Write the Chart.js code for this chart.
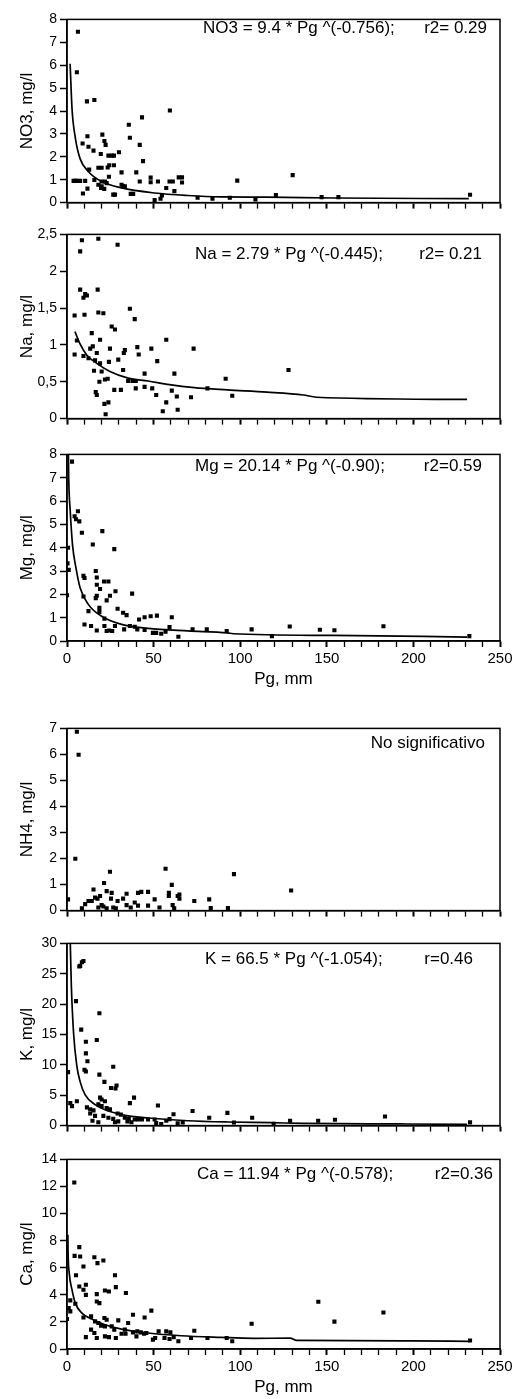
<!DOCTYPE html>
<html>
<head>
<meta charset="utf-8">
<script src="https://cdn.jsdelivr.net/npm/chart.js@4.4.1/dist/chart.umd.min.js"></script>
<style>
  body { margin: 0; background: #fff; width: 523px; height: 1399px; position: relative; overflow: hidden; }
  .panel { position: absolute; left: 0; width: 523px; }
</style>
</head>
<body>
<div class="panel" style="top:8px"><canvas id="cNO3" width="523" height="206"></canvas></div>
<div class="panel" style="top:223px"><canvas id="cNa" width="523" height="207"></canvas></div>
<div class="panel" style="top:443px"><canvas id="cMg" width="523" height="247"></canvas></div>
<div class="panel" style="top:717px"><canvas id="cNH4" width="523" height="205"></canvas></div>
<div class="panel" style="top:932px"><canvas id="cK" width="523" height="205"></canvas></div>
<div class="panel" style="top:1148px"><canvas id="cCa" width="523" height="250"></canvas></div>
<script>
// eje X comun (Pg, mm)
const xTickLabels = [0, 50, 100, 150, 200, 250];

// NO3
const no3Pg   = [6.3, 5.7, 11.5, 15.8, 11.8, 9.0, 12.4, 15.3, 20.4, 21.6, 22.3, 19.5, 23.9, 25.8, 27.1, 30, 35.7, 36.3, 43.3, 42, 43.9, 59.4, 18.1, 20, 23.5, 24.4, 27.1, 31.5, 40, 12.8, 15.8, 3.8, 4.8, 5.7, 7.6, 10.5, 9.2, 11.8, 19.7, 20, 21.9, 22.9, 24.2, 26.7, 27.7, 32.4, 36.8, 38.2, 42, 48.3, 48.3, 52.5, 59.2, 61.1, 64.5, 66.4, 66.4, 50.6, 54, 54.8, 57.3, 62, 98.3, 75.4, 84, 94, 108.8, 120.6, 130.3, 147, 156.7, 232.7, 18.1, 20, 21.5, 31.5, 33.4];
const no3Conc = [7.46, 5.69, 4.42, 4.48, 2.9, 2.58, 2.44, 2.27, 2.97, 2.69, 2.52, 2.12, 2.05, 2.05, 2.05, 2.2, 3.4, 2.83, 3.72, 2.52, 1.81, 4.02, 1.52, 1.52, 1.53, 1.63, 1.63, 1.32, 1.32, 1.44, 0.99, 0.95, 0.95, 0.95, 0.95, 0.95, 0.4, 0.61, 0.64, 0.92, 0.92, 0.85, 1.13, 0.35, 0.35, 0.71, 0.38, 0.38, 0.92, 1.09, 0.89, 0.92, 0.92, 0.92, 1.1, 1.1, 0.88, 0.11, 0.17, 0.31, 0.64, 0.5, 0.96, 0.21, 0.17, 0.21, 0.14, 0.33, 1.2, 0.24, 0.24, 0.34, 0.78, 0.71, 0.6, 0.78, 0.71];
const no3FitPg   = [1.8, 2.9, 4.8, 7.6, 12.4, 20, 31.5, 50.6, 69.7, 88.7, 115, 154, 232];
const no3FitConc = [6.06, 4.1, 2.83, 1.91, 1.35, 0.92, 0.64, 0.42, 0.31, 0.25, 0.24, 0.2, 0.17];

// Na
const naPg   = [8.6, 18.1, 29.2, 7.6, 7.6, 9.5, 10.5, 11.5, 17.7, 4.4, 10.1, 18.1, 21, 36.3, 39.1, 25.8, 27.7, 14.3, 5.7, 19.1, 14.9, 13.4, 17.2, 24.8, 33.4, 32.8, 40.6, 41.4, 48.7, 57.3, 73.1, 4.4, 9.5, 12.4, 16.2, 19.1, 24.2, 29.6, 52.1, 15.6, 20, 32.4, 21.9, 23.5, 18.7, 35.3, 37.8, 39.7, 44.8, 62, 16.6, 17.2, 27.3, 31.1, 39.7, 44.8, 49.2, 60.5, 51.5, 63.4, 71.6, 81.1, 91.6, 95.4, 127.9, 21.6, 23.9, 57.3, 55.3, 63.9, 22.3];
const naConc = [2.42, 2.44, 2.36, 2.27, 1.75, 1.64, 1.69, 1.67, 1.75, 1.4, 1.41, 1.44, 1.43, 1.49, 1.35, 1.25, 1.21, 1.16, 1.06, 1.07, 0.98, 0.95, 0.89, 0.95, 0.93, 0.89, 0.97, 0.87, 0.95, 1.07, 0.95, 0.87, 0.85, 0.82, 0.79, 0.75, 0.77, 0.8, 0.78, 0.65, 0.64, 0.66, 0.53, 0.54, 0.5, 0.51, 0.51, 0.51, 0.61, 0.61, 0.36, 0.32, 0.39, 0.39, 0.41, 0.43, 0.41, 0.38, 0.32, 0.3, 0.29, 0.41, 0.54, 0.31, 0.66, 0.2, 0.22, 0.22, 0.1, 0.12, 0.06];
const naFitPg   = [4.6, 7.6, 11.5, 17.2, 24.8, 35.3, 46.8, 59.2, 73.5, 92.6, 115.5, 136.5, 144, 231];
const naFitConc = [1.18, 1.01, 0.86, 0.75, 0.64, 0.55, 0.51, 0.46, 0.42, 0.39, 0.36, 0.32, 0.29, 0.26];

// Mg
const mgPg   = [2.9, 4.4, 6.3, 5.2, 7.1, 8.6, 20.4, 14.9, 27.3, 0.6, 0.3, 1.0, 0, 9.5, 10.1, 16.6, 17.2, 17.2, 21.4, 23.9, 19.1, 17.2, 16.6, 9.5, 28, 24.8, 22.9, 37.6, 12.4, 18.7, 18.7, 29.2, 32.4, 34.4, 21.6, 41.6, 44.8, 48.3, 51.9, 60.5, 10.1, 13.9, 17.2, 21.6, 22.9, 24.4, 27.7, 26.1, 33, 36.3, 39.1, 40.6, 44.8, 49.6, 51.5, 54.4, 56.9, 59.2, 64.3, 72.5, 80.7, 92.2, 106.6, 118.3, 128.6, 146, 154.4, 182.7, 232.3];
const mgConc = [7.69, 5.35, 5.56, 5.22, 5.13, 4.64, 4.71, 4.14, 3.94, 4.0, 3.33, 3.05, 1.96, 2.79, 2.7, 3.0, 2.72, 2.41, 2.55, 2.55, 2.23, 1.94, 1.84, 1.91, 2.13, 1.94, 1.74, 2.03, 1.28, 1.42, 1.25, 1.38, 1.21, 1.11, 0.96, 0.92, 1.02, 1.06, 1.09, 1.02, 0.71, 0.64, 0.45, 0.64, 0.43, 0.45, 0.64, 0.43, 0.5, 0.64, 0.61, 0.5, 0.47, 0.35, 0.35, 0.31, 0.4, 0.6, 0.18, 0.5, 0.5, 0.43, 0.5, 0.21, 0.62, 0.48, 0.46, 0.63, 0.21];
const mgFitPg   = [0.8, 1, 1.9, 3.2, 5.2, 7.6, 12.4, 20, 31.5, 46.8, 69.7, 92.6, 96, 154, 231];
const mgFitConc = [8, 6.95, 5.53, 4.11, 3.12, 2.27, 1.56, 1.06, 0.71, 0.54, 0.43, 0.35, 0.31, 0.24, 0.17];

// NH4 (sin ajuste)
const nh4Pg   = [5.7, 6.7, 4.8, 0.6, 24.8, 56.9, 96.4, 129.4, 21.4, 60.5, 15.3, 22.9, 25.8, 34.4, 41, 42.9, 46.8, 58.8, 58.8, 64.9, 63.9, 64.9, 19.1, 16.2, 12.4, 14.3, 17.6, 25.4, 29.2, 32.4, 50.6, 39.1, 73.5, 82.1, 10.5, 8.6, 18.1, 20, 21, 22.9, 26.7, 28.2, 34.4, 36.8, 41, 46.8, 53.4, 61, 61.9, 83, 92.9];
const nh4Conc = [6.87, 5.99, 1.99, 0.43, 1.49, 1.61, 1.4, 0.77, 1.06, 0.99, 0.81, 0.75, 0.68, 0.65, 0.68, 0.72, 0.72, 0.68, 0.56, 0.62, 0.56, 0.46, 0.56, 0.5, 0.37, 0.37, 0.46, 0.46, 0.37, 0.46, 0.43, 0.31, 0.37, 0.43, 0.25, 0.09, 0.12, 0.21, 0.16, 0.09, 0.12, 0.09, 0.21, 0.12, 0.19, 0.19, 0.12, 0.21, 0.09, 0.1, 0.1];

// K
const kPg   = [9.5, 8.6, 7.6, 7.1, 5.2, 18.7, 8.2, 17.2, 10.9, 10.9, 11.8, 10.1, 10.9, 26.7, 0.6, 18.7, 21.6, 25.4, 28.6, 28, 38.7, 36.3, 1.9, 2.9, 5.7, 19.1, 20, 21.9, 18.1, 20, 11.5, 13.4, 15.3, 52.5, 22.9, 24.8, 13.4, 16.2, 21, 23.9, 26.7, 29.2, 31.1, 33.4, 35.7, 39.1, 41, 43.3, 46.8, 50.6, 14.7, 18.1, 27.7, 29.6, 34.9, 37.2, 51.5, 54.4, 57.3, 59.2, 61.5, 63.9, 66.8, 72.5, 82.1, 92.6, 96.4, 106.9, 119.3, 128.8, 145, 154.7, 183.6, 232.7];
const kConc = [27.1, 26.9, 26.3, 26.2, 20.5, 18.5, 15.8, 14.1, 13.8, 11.9, 10.6, 9.2, 8.9, 9.7, 8.8, 8.4, 7.2, 6.2, 6.6, 6.1, 4.6, 3.7, 3.7, 3.2, 4.0, 4.6, 4.3, 4.0, 3.5, 3.2, 3.0, 2.7, 2.5, 3.3, 2.9, 2.7, 2.0, 1.6, 1.6, 1.3, 1.1, 2.0, 1.8, 1.3, 1.1, 1.0, 1.0, 1.0, 1.0, 1.0, 0.8, 0.55, 0.55, 0.7, 0.7, 0.55, 0.4, 0.27, 0.8, 1.06, 1.86, 0.37, 0.53, 2.4, 1.3, 2.1, 0.5, 1.3, 0.3, 0.8, 0.8, 0.96, 1.5, 0.53];
const kFitPg   = [1.9, 2.5, 3.8, 5.7, 7.6, 10.5, 16.2, 23.9, 35.3, 50.6, 69.7, 92.6, 117.4, 136.5, 192, 231];
const kFitConc = [30, 23.1, 15.2, 9.8, 7.2, 5.05, 3.46, 2.4, 1.6, 1.17, 0.8, 0.59, 0.48, 0.37, 0.27, 0.2];

// Ca
const caPg   = [4.2, 7.1, 4.4, 7.6, 15.8, 21, 17.6, 9.5, 5.2, 27.7, 10.9, 7.1, 9.5, 10.9, 28.2, 21.9, 24.2, 34, 17.2, 17.2, 18.7, 1.9, 1, 1.9, 4.8, 48.7, 38.1, 44.8, 9.5, 13.9, 21.6, 22.9, 29.6, 35.3, 0, 16.2, 18.1, 19.7, 21.9, 25.8, 27.3, 33.4, 38.1, 40.6, 42.6, 45.8, 52.9, 57.3, 59.7, 73.5, 13.9, 15.8, 10.9, 17.2, 21.9, 24.2, 28.2, 31.5, 33.8, 40.1, 44.5, 49.6, 50.9, 56.3, 59.2, 61.6, 64.3, 71.6, 81.1, 92.2, 95.4, 106.6, 145.1, 154.4, 182.7, 232.7];
const caConc = [12.29, 7.52, 6.88, 6.83, 6.78, 6.54, 6.34, 6.09, 5.45, 5.45, 4.74, 4.62, 4.37, 4.0, 4.57, 4.32, 4.25, 4.13, 4.05, 3.51, 3.39, 3.59, 3.02, 2.78, 3.34, 2.83, 2.53, 2.33, 2.33, 2.41, 2.29, 2.16, 2.11, 1.92, 2.21, 2.04, 1.92, 1.72, 1.67, 1.67, 1.43, 1.43, 1.23, 1.3, 1.23, 1.18, 1.3, 1.3, 1.23, 1.35, 1.43, 1.18, 0.88, 0.81, 0.93, 0.88, 0.81, 1.13, 1.13, 0.93, 1.13, 0.69, 0.81, 0.81, 0.74, 0.88, 0.57, 0.81, 0.81, 0.81, 0.57, 1.86, 3.49, 2.02, 2.69, 0.63];
const caFitPg   = [0.5, 0.6, 1.3, 2.9, 4.8, 8.6, 14.3, 21.9, 31.5, 46.8, 65.8, 88.7, 107.8, 128.8, 132.6, 198, 232.7];
const caFitConc = [8.43, 7.3, 5.6, 4.37, 3.39, 2.65, 2.21, 1.79, 1.47, 1.18, 0.98, 0.86, 0.79, 0.8, 0.63, 0.6, 0.56];

// textos de cada panel
const equations = ['NO3 = 9.4 * Pg ^(-0.756);', 'Na = 2.79 * Pg ^(-0.445);', 'Mg = 20.14 * Pg ^(-0.90);', '', 'K = 66.5 * Pg ^(-1.054);', 'Ca = 11.94 * Pg ^(-0.578);'];
const fitStats  = ['r2= 0.29', 'r2= 0.21', 'r2=0.59', 'No significativo', 'r=0.46', 'r2=0.36'];

Chart.defaults.font.family = '"Liberation Sans", Arial, sans-serif';
Chart.defaults.color = '#000';

function pts(xs, ys) {
  return xs.map((x, i) => ({ x: x, y: ys[i] }));
}

// marco + ecuacion
const framePlugin = {
  id: 'frame',
  afterDatasetsDraw(chart, args, o) {
    const { ctx, chartArea: a } = chart;
    ctx.save();
    ctx.strokeStyle = '#000';
    ctx.lineWidth = 1.5;
    ctx.strokeRect(a.left, a.top, a.right - a.left, a.bottom - a.top);
    ctx.fillStyle = '#000';
    ctx.font = '17px "Liberation Sans", Arial, sans-serif';
    ctx.textBaseline = 'middle';
    if (o.eq) {
      ctx.textAlign = 'left';
      ctx.fillText(o.eq, a.left + o.eqDx, a.top + o.dy);
    }
    ctx.textAlign = 'right';
    ctx.fillText(o.stat, a.right - o.statDx, a.top + o.dy);
    ctx.restore();
  }
};

function makePanel(id, p) {
  const datasets = [{
    data: pts(p.x, p.y),
    pointStyle: 'rect',
    pointRadius: 2.9,
    backgroundColor: '#000',
    borderWidth: 0
  }];
  if (p.fitX) {
    datasets.push({
      data: pts(p.fitX, p.fitY),
      showLine: true,
      pointRadius: 0,
      borderColor: '#000',
      borderWidth: 1.7,
      cubicInterpolationMode: 'monotone'
    });
  }
  new Chart(document.getElementById(id), {
    type: 'scatter',
    data: { datasets: datasets },
    plugins: [framePlugin],
    options: {
      responsive: false,
      animation: false,
      layout: { padding: { top: 10, right: 23, left: 0, bottom: 0 } },
      plugins: {
        legend: { display: false },
        tooltip: { enabled: false },
        frame: { eq: p.eq, stat: p.stat, eqDx: p.eqDx, statDx: p.statDx, dy: p.dy }
      },
      scales: {
        x: {
          type: 'linear',
          min: 0,
          max: 250,
          border: { color: '#000', width: 1.5 },
          grid: {
            drawOnChartArea: false,
            color: '#000',
            tickLength: 6,
            tickWidth: c => (c.tick && c.tick.value % 50 === 0) ? 2 : 1.3
          },
          ticks: {
            stepSize: 10,
            autoSkip: false,
            maxRotation: 0,
            padding: 3,
            font: { size: 15 },
            callback: v => (p.showX && xTickLabels.includes(v)) ? String(v) : ''
          },
          title: {
            display: p.showX,
            text: 'Pg, mm',
            font: { size: 17 },
            padding: { top: 0, bottom: 0 }
          },
          afterFit: s => { s.height = p.showX ? 49 : 7; }
        },
        y: {
          type: 'linear',
          min: 0,
          max: p.yMax,
          border: { color: '#000', width: 1.5 },
          grid: {
            drawOnChartArea: false,
            color: '#000',
            tickLength: 7,
            tickWidth: 1.5
          },
          ticks: {
            stepSize: p.yStep,
            padding: 3,
            font: { size: 14 },
            callback: v => String(v).replace('.', ',')
          },
          title: {
            display: true,
            text: p.yTitle,
            font: { size: 17 },
            padding: { top: 17, bottom: 0 }
          },
          afterFit: s => { s.width = 67; }
        }
      }
    }
  });
}

makePanel('cNO3', { x: no3Pg, y: no3Conc, fitX: no3FitPg, fitY: no3FitConc, yMax: 8, yStep: 1, yTitle: 'NO3, mg/l',
  eq: equations[0], stat: fitStats[0], eqDx: 136, statDx: 13, dy: 9, showX: false });
makePanel('cNa', { x: naPg, y: naConc, fitX: naFitPg, fitY: naFitConc, yMax: 2.5, yStep: 0.5, yTitle: 'Na, mg/l',
  eq: equations[1], stat: fitStats[1], eqDx: 128, statDx: 18, dy: 20, showX: false });
makePanel('cMg', { x: mgPg, y: mgConc, fitX: mgFitPg, fitY: mgFitConc, yMax: 8, yStep: 1, yTitle: 'Mg, mg/l',
  eq: equations[2], stat: fitStats[2], eqDx: 128, statDx: 18, dy: 12, showX: true });
makePanel('cNH4', { x: nh4Pg, y: nh4Conc, yMax: 7, yStep: 1, yTitle: 'NH4, mg/l',
  eq: equations[3], stat: fitStats[3], eqDx: 0, statDx: 15, dy: 15, showX: false });
makePanel('cK', { x: kPg, y: kConc, fitX: kFitPg, fitY: kFitConc, yMax: 30, yStep: 5, yTitle: 'K, mg/l',
  eq: equations[4], stat: fitStats[4], eqDx: 138, statDx: 27, dy: 16, showX: false });
makePanel('cCa', { x: caPg, y: caConc, fitX: caFitPg, fitY: caFitConc, yMax: 14, yStep: 2, yTitle: 'Ca, mg/l',
  eq: equations[5], stat: fitStats[5], eqDx: 130, statDx: 7, dy: 15, showX: true });
</script>
</body>
</html>
